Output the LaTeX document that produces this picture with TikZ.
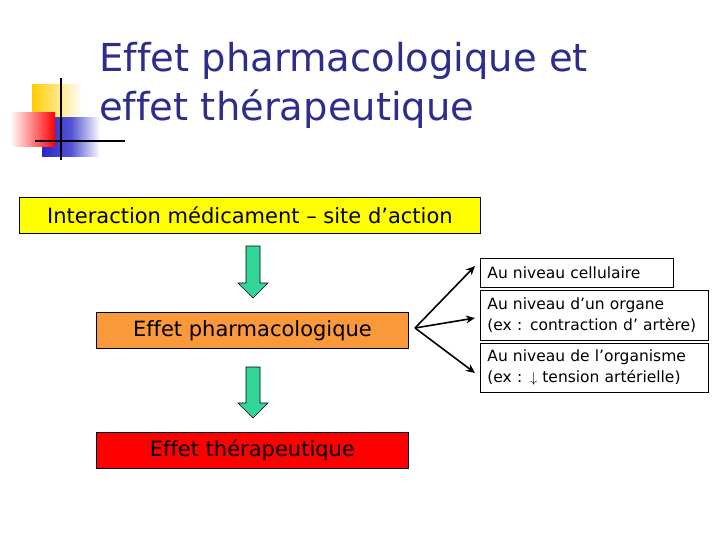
\documentclass[tikz,border=0pt]{standalone}
\usepackage{fontspec}
\setmainfont{DejaVu Sans}[Ligatures=NoCommon]
\usetikzlibrary{arrows.meta}
\definecolor{titleblue}{RGB}{45,45,140}
\definecolor{boxyellow}{RGB}{255,255,0}
\definecolor{boxorange}{RGB}{250,152,60}
\definecolor{boxred}{RGB}{255,0,0}
\definecolor{arrowgreen}{RGB}{51,214,153}
\definecolor{logoyellow}{RGB}{255,204,0}
\definecolor{logoblue}{RGB}{40,40,200}
\tikzset{
  mainbox/.style={draw=black, line width=0.8pt, inner sep=0pt, anchor=north west, font=\fontsize{21}{25}\selectfont},
  sidebox/.style={draw=black, line width=0.8pt, inner sep=0pt, anchor=north west, align=left, font=\fontsize{15.5}{21}\selectfont},
  greenarrow/.style={fill=arrowgreen, draw=black, line width=0.6pt},
  titletext/.style={anchor=base west, inner sep=0pt, text=titleblue, font=\fontsize{38.5}{44}\selectfont},
  link/.style={-{Stealth[length=9pt,width=8pt]}, line width=1.6pt}
}
\begin{document}
\begin{tikzpicture}[x=1pt,y=-1pt]
\useasboundingbox (0,0) rectangle (720,540);
% logo
\shade[left color=logoyellow, right color=white] (32,85) rectangle (82,118);
\shade[left color=logoblue, right color=white, middle color=logoblue!80] (42,118) rectangle (100,157);
\shade[top color=red!15, bottom color=white, left color=white, right color=red] (10,113) rectangle (55,147);
\draw[line width=2pt] (61,78) -- (61,160);
\draw[line width=2pt] (35,141) -- (125,141);
% title
\node[titletext] (t1) at (99,72) {Effet pharmacologique et};
\node[titletext] (t2) at (99,121) {effet thérapeutique};
% main boxes
\node[mainbox, fill=boxyellow, minimum width=461pt, minimum height=36pt] (inter) at (19,197) {Interaction médicament – site d’action};
\node[mainbox, fill=boxorange, minimum width=312pt, minimum height=36pt] (pharma) at (96,312) {Effet pharmacologique};
\node[mainbox, fill=boxred, minimum width=312pt, minimum height=36pt] (thera) at (96,432) {Effet thérapeutique};
% green arrows
\draw[greenarrow] (246,246) -- (260,246) -- (260,283) -- (268,283) -- (253,298) -- (238,283) -- (246,283) -- cycle;
\draw[greenarrow] (246,367) -- (260,367) -- (260,403) -- (268,403) -- (253,418) -- (238,403) -- (246,403) -- cycle;
% side boxes
\node[sidebox, minimum width=193pt, minimum height=29pt, inner xsep=7pt, text width=179pt] (cell) at (480,258) {Au niveau cellulaire};
\node[sidebox, minimum width=228pt, minimum height=50pt, inner xsep=7pt, text width=214pt] (org) at (480,290) {Au niveau d’un organe\\(ex : contraction d’ artère)};
\node[sidebox, minimum width=228pt, minimum height=49pt, inner xsep=7pt, text width=214pt] (orga) at (480,343) {Au niveau de l’organisme\\(ex : $\downarrow$ tension artérielle)};
% links
\coordinate (src) at (415,328);
\draw[link] (src) -- (475,266);
\draw[link] (src) -- (475,318);
\draw[link] (src) -- (475,373);
\end{tikzpicture}
\end{document}
